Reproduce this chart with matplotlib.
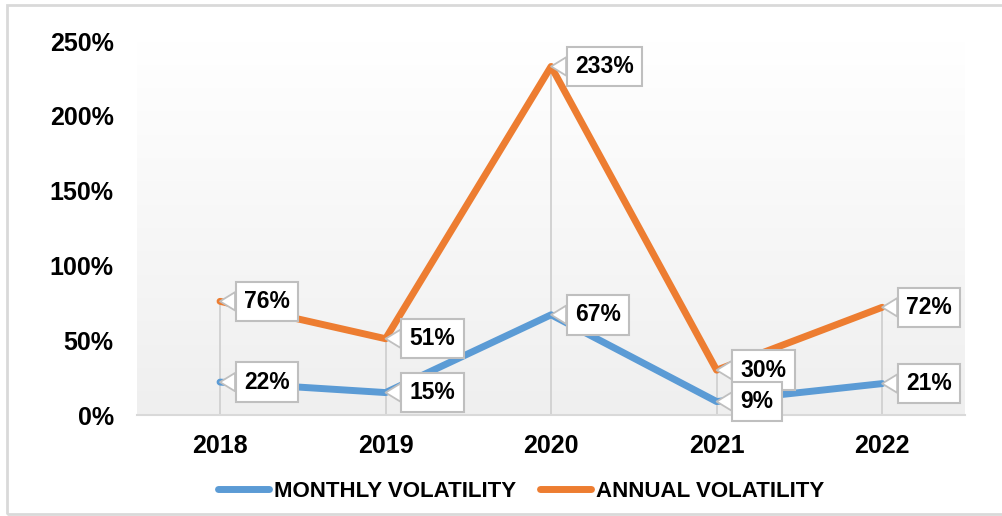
import numpy as np
import matplotlib.pyplot as plt
from matplotlib.patches import Rectangle
from matplotlib.ticker import FuncFormatter

# Data
years = ['2018', '2019', '2020', '2021', '2022']
monthly = [0.22, 0.15, 0.67, 0.09, 0.21]
annual = [0.76, 0.51, 2.33, 0.30, 0.72]
yticks = [0, 0.5, 1.0, 1.5, 2.0, 2.5]

blue = '#5B9BD5'
orange = '#ED7D31'
grey = '#D0D0D0'

plt.rcParams['font.family'] = ['Liberation Sans', 'DejaVu Sans']

fig = plt.figure(figsize=(10.02, 5.16), dpi=100)
ax = fig.add_axes([0.137, 0.1957, 0.826, 0.7248])

x = np.arange(len(years))
ax.set_xlim(-0.5, len(years) - 0.5)
ax.set_ylim(0, 2.5)

# gradient background
grad = np.linspace(0, 1, 256).reshape(-1, 1)
ax.imshow(grad, extent=[-0.5, len(years) - 0.5, 0, 2.5], aspect='auto',
          cmap=plt.matplotlib.colors.LinearSegmentedColormap.from_list(
              'bg', ['#EFEFEF', '#FFFFFF']),
          origin='lower', zorder=0)

# drop lines
tops = np.maximum(monthly, annual)
ax.vlines(x, 0, tops, color=grey, lw=1.3, zorder=1)

ax.plot(x, monthly, color=blue, lw=5, solid_capstyle='round', zorder=3,
        label='MONTHLY VOLATILITY')
ax.plot(x, annual, color=orange, lw=5, solid_capstyle='round', zorder=3,
        label='ANNUAL VOLATILITY')

# data labels with callouts (monthly boxes sit on top)
for series, z in ((annual, 5), (monthly, 6)):
    for xi, v in zip(x, series):
        ax.annotate(f'{round(v * 100)}%', xy=(xi, v), xytext=(24, 0),
                    textcoords='offset pixels', ha='left', va='center',
                    fontsize=16.5, fontweight='bold', zorder=z,
                    bbox=dict(boxstyle='square,pad=0.36', fc='white',
                              ec='#BFBFBF', lw=1.5),
                    arrowprops=dict(arrowstyle='wedge,tail_width=0.8',
                                    fc='white', ec='#BFBFBF', lw=1.3,
                                    shrinkA=0, shrinkB=0))

ax.set_xticks(x)
ax.set_xticklabels(years)
ax.set_yticks(yticks)
ax.yaxis.set_major_formatter(FuncFormatter(lambda v, p: f'{v * 100:.0f}%'))
ax.tick_params(axis='both', length=0, labelsize=18)
ax.tick_params(axis='y', pad=17)
ax.tick_params(axis='x', pad=14)
for lbl in ax.get_xticklabels() + ax.get_yticklabels():
    lbl.set_fontweight('bold')

for s in ['top', 'right', 'left']:
    ax.spines[s].set_visible(False)
ax.spines['bottom'].set_color('#D9D9D9')
ax.spines['bottom'].set_linewidth(1.5)

leg = fig.legend(loc='center', bbox_to_anchor=(0.52, 0.047), ncol=2,
                 frameon=False, handlelength=2.3, columnspacing=1.1,
                 handletextpad=0.2,
                 prop={'family': ['Liberation Sans Narrow', 'Liberation Sans'],
                       'weight': 'bold', 'size': 16})

# outer border
fig.patches.append(Rectangle((7 / 1002, 2 / 516), 1.2, 1 - 7 / 516,
                             transform=fig.transFigure, fill=False,
                             ec='#D9D9D9', lw=2))

fig.savefig('out.png', dpi=100)
